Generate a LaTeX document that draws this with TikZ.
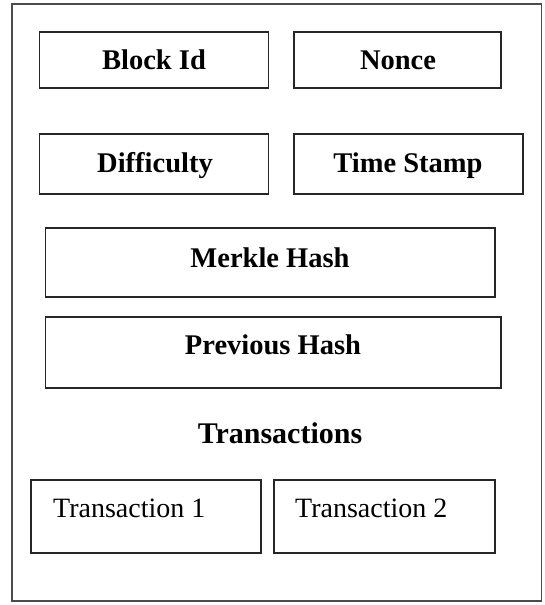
\documentclass[tikz,border=0pt]{standalone}
\usepackage{fontspec}
\setmainfont{Liberation Serif}
\begin{document}
\begin{tikzpicture}[x=1pt,y=-1pt,
  frame/.style={draw=black!70,line width=1.3pt},
  fieldbox/.style={draw=black!85,line width=1.3pt},
  boldlbl/.style={inner sep=0pt,anchor=base,font=\fontsize{28.5}{30}\selectfont\bfseries},
  headlbl/.style={inner sep=0pt,anchor=base,font=\fontsize{30}{32}\selectfont\bfseries},
  txlbl/.style={inner sep=0pt,anchor=base west,font=\fontsize{28}{30}\selectfont}]
\useasboundingbox (0,0) rectangle (545,605);
\draw[frame] (12,4) rectangle (541.5,601);
% boxes
\draw[fieldbox] (39.5,32) rectangle (268.5,88) node[pos=0.5] (blockid) {};
\draw[fieldbox] (294,32) rectangle (501,88) node[pos=0.5] (nonce) {};
\draw[fieldbox] (39.5,134) rectangle (268.5,194) node[pos=0.5] (difficulty) {};
\draw[fieldbox] (294,134) rectangle (523,194) node[pos=0.5] (timestamp) {};
\draw[fieldbox] (45.5,228) rectangle (495,297) node[pos=0.5] (merkle) {};
\draw[fieldbox] (45.5,317) rectangle (501,388) node[pos=0.5] (previous) {};
\draw[fieldbox] (31,480) rectangle (261,553) node[pos=0.5] (tx1) {};
\draw[fieldbox] (274,480) rectangle (495,553) node[pos=0.5] (tx2) {};
% labels
\node[boldlbl] (lblockid) at (154,69) {Block Id};
\node[boldlbl] (lnonce) at (398,69) {Nonce};
\node[boldlbl] (ldifficulty) at (155,172) {Difficulty};
\node[boldlbl] (ltimestamp) at (408,172) {Time Stamp};
\node[boldlbl] (lmerkle) at (270,267) {Merkle Hash};
\node[boldlbl] (lprevious) at (273,354) {Previous Hash};
\node[headlbl] (ltrans) at (280,443) {Transactions};
\node[txlbl] (ltx1) at (53,517) {Transaction 1};
\node[txlbl] (ltx2) at (295,517) {Transaction 2};
\end{tikzpicture}
\end{document}
